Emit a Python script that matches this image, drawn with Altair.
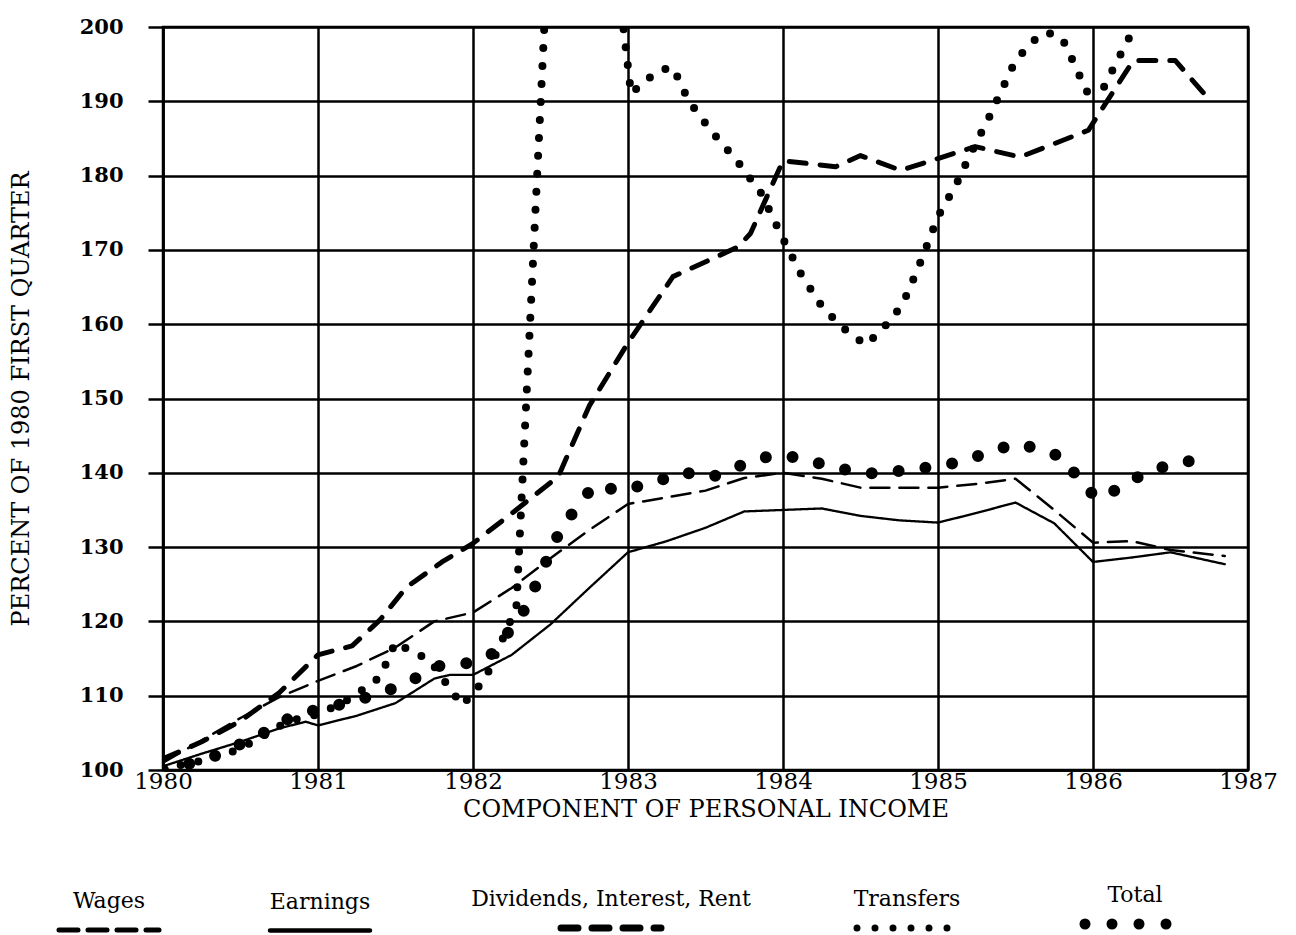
import altair as alt
import pandas as pd

SERIES = ["Wages", "Earnings", "Dividends, Interest, Rent", "Transfers", "Total"]

YEAR_TICKS = [1980, 1981, 1982, 1983, 1984, 1985, 1986, 1987]
VALUE_TICKS = [100, 110, 120, 130, 140, 150, 160, 170, 180, 190, 200]

WAGES_X = [1980.0, 1980.25, 1980.5, 1980.75, 1981.0, 1981.25, 1981.5, 1981.75, 1982.0,
           1982.25, 1982.5, 1982.75, 1983.0, 1983.25, 1983.5, 1983.75, 1984.0, 1984.25,
           1984.5, 1984.75, 1985.0, 1985.25, 1985.5, 1985.75, 1986.0, 1986.25, 1986.5, 1986.85]
WAGES_Y = [101.0, 104.0, 107.0, 109.8, 112.0, 114.0, 116.5, 120.0, 121.2,
           124.5, 128.5, 132.3, 135.8, 136.7, 137.6, 139.3, 140.0, 139.2,
           138.0, 138.0, 138.0, 138.5, 139.2, 135.0, 130.6, 130.8, 129.6, 128.8]

EARN_X = [1980.0, 1980.25, 1980.5, 1980.75, 1980.92, 1981.0, 1981.25, 1981.5, 1981.75,
          1981.85, 1982.0, 1982.25, 1982.5, 1982.75, 1983.0, 1983.25, 1983.5, 1983.75,
          1984.0, 1984.25, 1984.5, 1984.75, 1985.0, 1985.25, 1985.5, 1985.75, 1986.0,
          1986.25, 1986.5, 1986.85]
EARN_Y = [100.5, 102.2, 103.8, 105.6, 106.5, 106.0, 107.3, 109.0, 112.3,
          112.8, 112.8, 115.5, 119.6, 124.5, 129.3, 130.8, 132.6, 134.8,
          135.0, 135.2, 134.2, 133.6, 133.3, 134.6, 136.0, 133.2, 128.0,
          128.6, 129.3, 127.7]

DIV_X = [1980.0, 1980.25, 1980.5, 1980.75, 1981.0, 1981.22, 1981.4, 1981.57, 1981.8,
         1982.0, 1982.26, 1982.55, 1982.75, 1983.0, 1983.29, 1983.71, 1983.79, 1984.0,
         1984.34, 1984.5, 1984.76, 1985.24, 1985.53, 1985.97, 1986.26, 1986.53, 1986.76]
DIV_Y = [101.5, 103.8, 106.6, 110.4, 115.5, 116.7, 120.2, 124.6, 128.0,
         130.5, 134.7, 139.5, 149.0, 157.5, 166.4, 170.4, 172.2, 182.0,
         181.2, 182.7, 180.7, 183.9, 182.5, 186.1, 195.5, 195.5, 190.0]

TRANS_X = [1980.0, 1980.2, 1980.4, 1980.6, 1980.8, 1981.0, 1981.2, 1981.4, 1981.5,
           1981.6, 1981.72, 1981.85, 1981.93, 1982.08, 1982.22, 1982.28, 1982.46, 1982.52,
           1982.9, 1982.97, 1983.02, 1983.1, 1983.21, 1983.29, 1983.39, 1983.54, 1983.7,
           1983.86, 1984.0, 1984.12, 1984.26, 1984.43, 1984.54, 1984.62, 1984.71, 1984.8,
           1984.9, 1985.0, 1985.12, 1985.2, 1985.34, 1985.5, 1985.62, 1985.7, 1985.8,
           1985.88, 1985.96, 1986.07, 1986.18, 1986.27, 1986.32]
TRANS_Y = [100.2, 101.0, 102.0, 104.0, 106.5, 107.5, 109.5, 112.5, 117.2,
           116.0, 114.8, 111.0, 108.7, 112.3, 119.0, 122.0, 200.0, 215.0,
           215.0, 200.0, 191.0, 192.6, 194.2, 194.6, 190.1, 185.9, 182.1,
           177.6, 171.5, 166.6, 162.1, 158.7, 157.2, 159.0, 160.8, 164.0,
           169.0, 174.5, 178.9, 182.5, 188.3, 195.5, 198.2, 199.3, 198.5,
           195.0, 191.3, 191.9, 196.4, 200.0, 204.0]

TOTAL_X = [1980.0, 1980.2, 1980.35, 1980.5, 1980.65, 1980.8, 1981.0, 1981.19, 1981.4,
           1981.58, 1981.78, 1981.97, 1982.13, 1982.33, 1982.41, 1982.49, 1982.57, 1982.68,
           1982.78, 1982.95, 1983.17, 1983.35, 1983.54, 1983.73, 1983.92, 1984.08, 1984.25,
           1984.43, 1984.59, 1984.78, 1984.96, 1985.13, 1985.31, 1985.49, 1985.67, 1985.82,
           1985.93, 1986.04, 1986.2, 1986.36, 1986.54, 1986.73]
TOTAL_Y = [100.0, 101.0, 102.0, 103.5, 105.0, 106.8, 108.2, 109.0, 110.3,
           111.8, 114.0, 114.4, 115.7, 121.5, 125.1, 128.9, 132.6, 135.6,
           138.3, 137.6, 138.7, 140.1, 139.4, 141.0, 142.3, 142.1, 141.2,
           140.3, 139.9, 140.3, 140.8, 141.4, 142.6, 143.9, 143.2, 141.9,
           138.3, 136.5, 138.3, 140.3, 141.2, 142.1]

# styles
DASHES = [[19, 10], [1, 0], [17, 14], [0, 18], [0, 27]]
LINE_WIDTHS = [2.5, 2.3, 5.0, 8.0, 12.0]
LEGEND_WIDTHS = [5.0, 4.5, 7.0, 7.0, 11.0]

rows = []
for name, xs, ys in [(SERIES[0], WAGES_X, WAGES_Y), (SERIES[1], EARN_X, EARN_Y),
                     (SERIES[2], DIV_X, DIV_Y), (SERIES[3], TRANS_X, TRANS_Y),
                     (SERIES[4], TOTAL_X, TOTAL_Y)]:
    for i, (x, y) in enumerate(zip(xs, ys)):
        rows.append({"series": name, "year": x, "value": y, "order": i})
df = pd.DataFrame(rows)

FONT = "DejaVu Serif"

legend = alt.Legend(
    title=None, orient="none", legendX=-65, legendY=886,
    direction="horizontal", columns=5, columnPadding=92,
    symbolType="stroke", symbolSize=10000, symbolStrokeColor="black",
    symbolStrokeWidth=6, symbolOffset=0,
    labelFont=FONT, labelFontSize=22, labelColor="black",
    labelAlign="center", labelBaseline="bottom", labelOffset=0, labelLimit=0,
)

x_enc = alt.X("year:Q",
              scale=alt.Scale(domain=[1980, 1987], nice=False, zero=False),
              axis=alt.Axis(values=YEAR_TICKS, format="d", title="COMPONENT OF PERSONAL INCOME",
                            ticks=False, labelPadding=0, labelFontSize=23, labelFlush=False,
                            titleFontSize=24, titlePadding=4, labelOverlap=False))
y_enc = alt.Y("value:Q",
              scale=alt.Scale(domain=[100, 200], nice=False, zero=False),
              axis=alt.Axis(values=VALUE_TICKS, title="PERCENT OF 1980 FIRST QUARTER",
                            tickSize=15, labelPadding=25, labelFontSize=21, labelFontWeight="bold",
                            titleFontSize=24, titlePadding=46, labelOverlap=False, labelFlush=False))
dash_enc = alt.StrokeDash("series:N", scale=alt.Scale(domain=SERIES, range=DASHES), legend=legend)

base = alt.Chart(df)
layers = []
for name, w in zip(SERIES, LINE_WIDTHS):
    layers.append(
        base.transform_filter(alt.datum.series == name).mark_line(
            color="black", strokeWidth=w, strokeCap="round", strokeJoin="round", clip=True
        ).encode(x=x_enc, y=y_enc, strokeDash=dash_enc, order=alt.Order("order:Q"))
    )

chart = alt.layer(*layers).properties(
    width=1085, height=743,
    autosize=alt.AutoSizeParams(type="none"),
    padding={"left": 155, "top": 19, "right": 40, "bottom": 200},
    background="white",
).configure_axis(
    domainColor="black", domainWidth=2.5, gridColor="black", gridWidth=2.5, gridOpacity=1,
    tickColor="black", tickWidth=2.5, labelColor="black", titleColor="black",
    labelFont=FONT, titleFont=FONT, titleFontWeight="normal",
).configure_view(
    stroke="black", strokeWidth=2.5,
)

width_signal = " : ".join(
    f"datum.value === '{n}' ? {w}" for n, w in zip(SERIES[:-1], LEGEND_WIDTHS[:-1])
) + f" : {LEGEND_WIDTHS[-1]}"

LEGEND_PATCH = [{
    "op": "add", "path": "/legends/0/encode",
    "value": {
        "symbols": {"update": {
            "strokeCap": {"value": "round"},
            "stroke": {"value": "black"},
            "fill": {"value": "transparent"},
            "strokeDash": {"scale": "strokeDash", "field": "value"},
            "strokeWidth": {"signal": width_signal},
        }},
        "labels": {"update": {
            "x": {"signal": "datum.size", "mult": 0.5},
            "align": {"value": "center"},
            "baseline": {"value": "bottom"},
            "dy": {"value": -17},
        }},
    },
}]

chart.save("out.html", embed_options={"renderer": "svg", "actions": False, "patch": LEGEND_PATCH})
